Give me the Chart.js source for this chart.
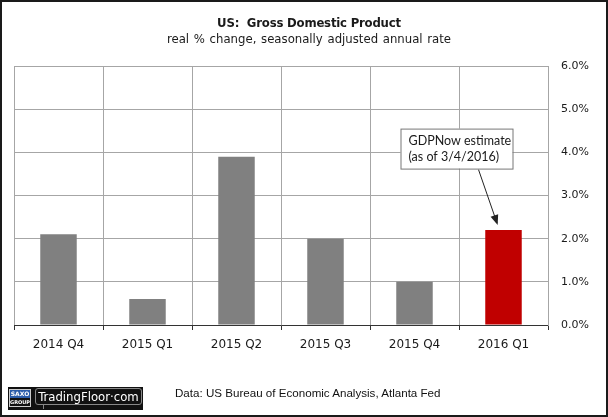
<!DOCTYPE html>
<html><head><meta charset="utf-8">
<script src="https://cdn.jsdelivr.net/npm/chart.js@4.4.1/dist/chart.umd.min.js"></script>
<style>
html,body{margin:0;padding:0;background:#fff;}
#wrap{position:relative;width:608px;height:417px;overflow:hidden;background:#fff;}
#c{position:absolute;left:0;top:0;}
#frame{position:absolute;left:0;top:0;width:608px;height:417px;box-sizing:border-box;border:2px solid #1a1a1a;pointer-events:none;}
.t{position:absolute;left:5px;width:608px;text-align:center;color:#1a1a1a;white-space:nowrap;}
#title{top:15px;font:bold 13px "DejaVu Sans Condensed","DejaVu Sans",sans-serif;letter-spacing:-0.2px;}
#sub{top:31px;font:13px "DejaVu Sans Condensed","DejaVu Sans",sans-serif;word-spacing:1px;}
#src{position:absolute;left:175px;top:386px;font:11.6px "Liberation Sans",Arial,sans-serif;color:#111;white-space:nowrap;}
#logo{position:absolute;left:8px;top:387px;width:135px;height:23px;background:#111;}
#saxo{position:absolute;left:1px;top:2px;width:22px;height:18px;font:bold 6px "DejaVu Sans",sans-serif;color:#fff;text-align:center;line-height:9px;border:1px solid #ccc;box-sizing:border-box;}
#saxo .a{background:#2a5caa;display:block;height:8px;line-height:8px;}
#saxo .b{display:block;height:8px;line-height:8px;font-size:5px;}
#tf{position:absolute;left:27px;top:1px;width:105px;height:15px;border:1px solid #888;border-radius:3px;font:13px "DejaVu Sans Condensed","DejaVu Sans",sans-serif;color:#fff;line-height:15px;text-align:center;}
#tail{position:absolute;left:35px;top:17px;width:5px;height:5px;border-left:1px solid #888;}
</style></head>
<body>
<div id="wrap">
<canvas id="c" width="608" height="417"></canvas>
<div class="t" id="title">US:&nbsp; Gross Domestic Product</div>
<div class="t" id="sub">real % change, seasonally adjusted annual rate</div>
<div id="logo"><div id="saxo"><span class="a">SAXO</span><span class="b">GROUP</span></div><div id="tf">TradingFloor·com</div><div id="tail"></div></div>
<div id="src">Data: US Bureau of Economic Analysis, Atlanta Fed</div>
<div id="frame"></div>
</div>
<script>
const categories = ["2014 Q4","2015 Q1","2015 Q2","2015 Q3","2015 Q4","2016 Q1"];
const gdpGrowth = [2.1, 0.6, 3.9, 2.0, 1.0, 2.2];
const barColors = ["#808080","#808080","#808080","#808080","#808080","#C00000"];
const yTicks = [0,1,2,3,4,5,6];
const noteLines = ["GDPNow estimate","(as of 3/4/2016)"];
const noteIndex = 5;

const notePlugin = {
  id:'note',
  afterDatasetsDraw(chart){
    const {ctx, scales:{x,y}} = chart;
    const cx = x.getPixelForValue(noteIndex);
    const bx = cx - 103, by = y.getPixelForValue(4.55), bw = 112, bh = 40;
    const sx = cx - 25, sy = by + bh + 1;
    const tx = cx - 6.5, ty = y.getPixelForValue(gdpGrowth[noteIndex]) - 7;
    ctx.save();
    ctx.strokeStyle = '#222'; ctx.fillStyle = '#222'; ctx.lineWidth = 1;
    ctx.beginPath(); ctx.moveTo(sx, sy); ctx.lineTo(tx, ty); ctx.stroke();
    const ang = Math.atan2(ty - sy, tx - sx);
    ctx.beginPath();
    ctx.moveTo(tx + 2*Math.cos(ang), ty + 2*Math.sin(ang));
    ctx.lineTo(tx - 8*Math.cos(ang) + 4*Math.sin(ang), ty - 8*Math.sin(ang) - 4*Math.cos(ang));
    ctx.lineTo(tx - 8*Math.cos(ang) - 4*Math.sin(ang), ty - 8*Math.sin(ang) + 4*Math.cos(ang));
    ctx.closePath(); ctx.fill();
    ctx.fillStyle = '#fff';
    ctx.fillRect(bx, by, bw, bh);
    ctx.strokeStyle = '#777';
    ctx.strokeRect(bx + 0.5, by + 0.5, bw, bh);
    ctx.fillStyle = '#1a1a1a';
    ctx.font = '12.5px Lato, "Open Sans", sans-serif';
    ctx.textBaseline = 'middle';
    ctx.fillText(noteLines[0], bx + 8, by + 12);
    ctx.fillText(noteLines[1], bx + 8, by + 28);
    ctx.restore();
  }
};

new Chart(document.getElementById('c'), {
  type:'bar',
  data:{ labels:categories, datasets:[{ data:gdpGrowth, backgroundColor:barColors, borderWidth:0, categoryPercentage:1, barPercentage:0.41 }]},
  plugins:[notePlugin],
  options:{
    responsive:false, animation:false, devicePixelRatio:1,
    layout:{ padding:{ left:14, right:0, top:66, bottom:56 } },
    plugins:{ legend:{display:false}, tooltip:{enabled:false}, title:{display:false} },
    scales:{
      x:{
        grid:{ offset:true, color:'#a6a6a6', tickColor:'#333', tickLength:5, drawTicks:true },
        border:{ color:'#333', width:1 },
        ticks:{ color:'#1a1a1a', font:{ family:'"DejaVu Sans", sans-serif', size:12 }, padding:8, maxRotation:0 },
        afterFit(s){ s.height = 36; }
      },
      y:{
        position:'right', min:0, max:6,
        afterBuildTicks(s){ s.ticks = yTicks.map(v=>({value:v})); },
        grid:{ color:'#a6a6a6', drawTicks:false },
        border:{ color:'#a6a6a6' },
        ticks:{ color:'#1a1a1a', font:{ family:'"DejaVu Sans", sans-serif', size:11 }, padding:13, callback:v=>v.toFixed(1)+'%' },
        afterFit(s){ s.width = 60; }
      }
    }
  }
});
</script>
</body></html>
